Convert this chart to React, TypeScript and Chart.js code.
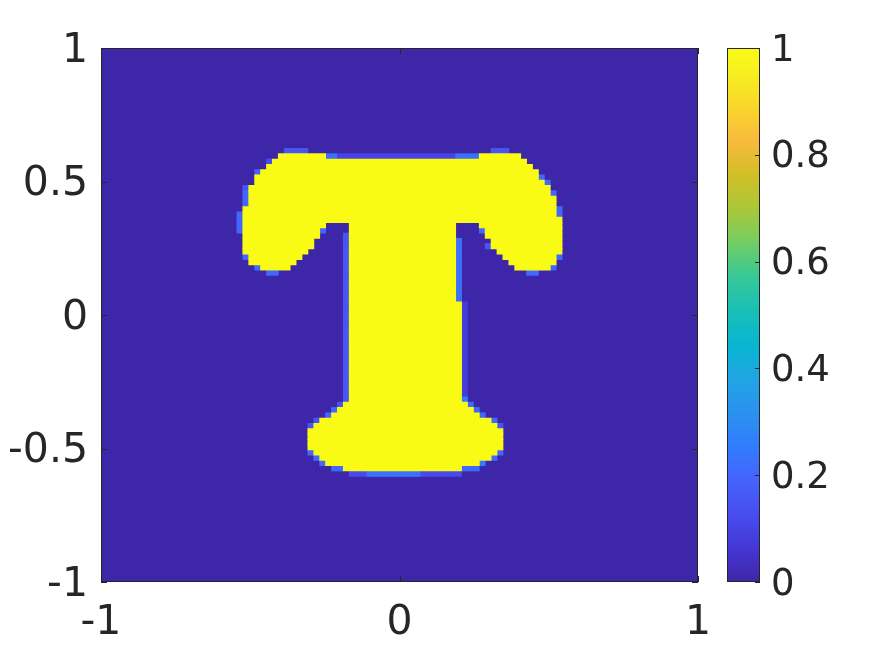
import React, { useEffect, useRef } from 'react';
import { Chart, registerables } from 'chart.js';

Chart.register(...registerables);

// ---- grid / axes ----
const GRID_N = 101; // cells per axis, spanning -1..1
const xTicks = [-1, 0, 1];
const yTicks = [-1, -0.5, 0, 0.5, 1];
const colorbarTicks = [0, 0.2, 0.4, 0.6, 0.8, 1];

// ---- cells with value 1 (rectangles in grid rows/cols, row 0 = top, col 0 = left) ----
const fullRowFrom = [20, 20, 21, 22, 23, 24, 25, 26, 28, 30, 32, 33, 34, 36, 38, 39, 40, 41, 33, 48, 33, 34, 36, 38, 39, 40, 41, 67, 68, 69, 70, 71, 72, 76, 77, 78, 79];
const fullRowTo = [20, 20, 21, 22, 23, 24, 25, 27, 29, 31, 32, 33, 35, 37, 38, 39, 40, 41, 47, 66, 33, 35, 37, 38, 39, 40, 41, 67, 68, 69, 70, 71, 75, 76, 77, 78, 79];
const fullColFrom = [30, 64, 29, 28, 27, 26, 26, 25, 25, 24, 24, 24, 24, 24, 24, 25, 25, 27, 42, 42, 64, 65, 66, 67, 68, 69, 70, 41, 40, 39, 37, 36, 35, 36, 37, 38, 41];
const fullColTo = [37, 70, 71, 72, 73, 73, 74, 75, 76, 76, 77, 37, 36, 35, 34, 33, 32, 31, 59, 60, 77, 77, 77, 77, 76, 76, 75, 61, 62, 63, 65, 66, 67, 66, 65, 63, 60];

// ---- edge cells with partial values ----
const edgeRowFrom = [19, 19, 20, 20, 20, 21, 23, 26, 27, 31, 39, 41, 42, 24, 25, 27, 30, 39, 41, 42, 34, 34, 37, 35, 36, 48, 66, 67, 67, 68, 68, 69, 69, 70, 70, 71, 71, 76, 76, 77, 77, 78, 78, 79, 79, 80, 80];
const edgeRowTo = [19, 19, 20, 20, 20, 21, 23, 26, 29, 34, 39, 41, 42, 24, 25, 27, 31, 39, 41, 42, 34, 34, 37, 66, 47, 65, 66, 67, 67, 68, 68, 69, 69, 70, 70, 71, 71, 76, 76, 77, 77, 78, 78, 79, 79, 80, 80];
const edgeColFrom = [31, 66, 38, 40, 60, 28, 26, 24, 24, 23, 24, 26, 28, 74, 75, 76, 77, 77, 76, 72, 37, 64, 65, 41, 60, 61, 61, 40, 62, 39, 63, 38, 64, 36, 66, 35, 67, 35, 67, 36, 66, 37, 64, 39, 61, 42, 45];
const edgeColTo = [34, 68, 39, 59, 63, 28, 26, 24, 24, 23, 24, 26, 29, 74, 75, 76, 77, 77, 76, 73, 37, 64, 65, 41, 60, 61, 61, 40, 62, 39, 63, 38, 64, 36, 66, 35, 67, 35, 67, 36, 66, 37, 64, 40, 63, 60, 53];
const edgeValue = [0.15, 0.15, 0.22, 0.1, 0.22, 0.12, 0.18, 0.15, 0.2, 0.2, 0.2, 0.2, 0.2, 0.2, 0.2, 0.2, 0.2, 0.2, 0.2, 0.2, 0.2, 0.2, 0.15, 0.15, 0.22, 0.08, 0.25, 0.15, 0.2, 0.2, 0.2, 0.2, 0.2, 0.15, 0.2, 0.15, 0.15, 0.2, 0.2, 0.2, 0.2, 0.2, 0.25, 0.2, 0.2, 0.12, 0.22];

// ---- parula colormap (style) ----
const PARULA: [number, number, number, number][] = [
  [0 / 63, 0.2422, 0.1504, 0.6603],
  [4 / 63, 0.2706, 0.2147, 0.8364],
  [8 / 63, 0.2813, 0.3006, 0.9414],
  [12 / 63, 0.2699, 0.3892, 0.9906],
  [16 / 63, 0.1963, 0.4847, 0.9892],
  [20 / 63, 0.1687, 0.5703, 0.9359],
  [24 / 63, 0.1248, 0.6459, 0.8883],
  [28 / 63, 0.0297, 0.7082, 0.8163],
  [32 / 63, 0.0964, 0.75, 0.712],
  [36 / 63, 0.2161, 0.7843, 0.5923],
  [40 / 63, 0.4456, 0.8024, 0.3909],
  [44 / 63, 0.672, 0.7793, 0.2227],
  [48 / 63, 0.8203, 0.7498, 0.1535],
  [52 / 63, 0.9728, 0.7298, 0.2394],
  [56 / 63, 0.9786, 0.8386, 0.1766],
  [60 / 63, 0.9628, 0.9373, 0.1265],
  [63 / 63, 0.9769, 0.9839, 0.0805],
];

function parula(t: number): string {
  const v = Math.max(0, Math.min(1, t));
  for (let i = 1; i < PARULA.length; i++) {
    const a = PARULA[i - 1];
    const b = PARULA[i];
    if (v <= b[0]) {
      const f = (v - a[0]) / (b[0] - a[0]);
      const r = Math.round((a[1] + (b[1] - a[1]) * f) * 255);
      const g = Math.round((a[2] + (b[2] - a[2]) * f) * 255);
      const bl = Math.round((a[3] + (b[3] - a[3]) * f) * 255);
      return `rgb(${r},${g},${bl})`;
    }
  }
  return 'rgb(249,251,21)';
}

const TEXT = '#262626';
const FONT = 'DejaVu Sans';

function buildCells() {
  const h = 2 / GRID_N;
  const data: { x: [number, number]; y: number }[] = [];
  const colors: string[] = [];
  const add = (r0: number, r1: number, c0: number, c1: number, v: number) => {
    for (let r = r0; r <= r1; r++) {
      data.push({ x: [-1 + c0 * h, -1 + (c1 + 1) * h], y: 1 - (r + 0.5) * h });
      colors.push(parula(v));
    }
  };
  edgeRowFrom.forEach((_, i) => add(edgeRowFrom[i], edgeRowTo[i], edgeColFrom[i], edgeColTo[i], edgeValue[i]));
  fullRowFrom.forEach((_, i) => add(fullRowFrom[i], fullRowTo[i], fullColFrom[i], fullColTo[i], 1));
  return { data, colors };
}

const heatmapFrame = {
  id: 'heatmapFrame',
  beforeDatasetsDraw(chart: any) {
    const { ctx, chartArea: a } = chart;
    ctx.save();
    ctx.fillStyle = parula(0);
    ctx.fillRect(a.left, a.top, a.right - a.left, a.bottom - a.top);
    ctx.restore();
  },
  afterDatasetsDraw(chart: any) {
    const { ctx, chartArea: a, scales } = chart;
    const tl = 6;
    ctx.save();
    ctx.strokeStyle = TEXT;
    ctx.lineWidth = 1;
    ctx.beginPath();
    scales.x.ticks.forEach((t: any) => {
      const px = Math.round(scales.x.getPixelForValue(t.value)) + 0.5;
      ctx.moveTo(px, a.bottom);
      ctx.lineTo(px, a.bottom - tl);
      ctx.moveTo(px, a.top);
      ctx.lineTo(px, a.top + tl);
    });
    scales.y.ticks.forEach((t: any) => {
      const py = Math.round(scales.y.getPixelForValue(t.value)) + 0.5;
      ctx.moveTo(a.left, py);
      ctx.lineTo(a.left + tl, py);
      ctx.moveTo(a.right, py);
      ctx.lineTo(a.right - tl, py);
    });
    ctx.stroke();
    ctx.strokeRect(Math.round(a.left) + 0.5, Math.round(a.top) + 0.5, Math.round(a.right - a.left) - 1, Math.round(a.bottom - a.top) - 1);
    ctx.restore();
  },
};

const colorbarFrame = {
  id: 'colorbarFrame',
  afterDatasetsDraw(chart: any) {
    const { ctx, chartArea: a, scales } = chart;
    const tl = 5;
    ctx.save();
    ctx.strokeStyle = TEXT;
    ctx.lineWidth = 1;
    ctx.beginPath();
    scales.y.ticks.forEach((t: any) => {
      const py = Math.round(scales.y.getPixelForValue(t.value)) + 0.5;
      ctx.moveTo(a.right, py);
      ctx.lineTo(a.right - tl, py);
    });
    ctx.stroke();
    ctx.strokeRect(Math.round(a.left) + 0.5, Math.round(a.top) + 0.5, Math.round(a.right - a.left) - 1, Math.round(a.bottom - a.top) - 1);
    ctx.restore();
  },
};

export default function App() {
  const mainRef = useRef<HTMLCanvasElement>(null);
  const barRef = useRef<HTMLCanvasElement>(null);

  useEffect(() => {
    if (!mainRef.current || !barRef.current) return;
    const cells = buildCells();
    const axisFont = { family: FONT, size: 41 };

    const main = new Chart(mainRef.current, {
      type: 'bar',
      data: {
        datasets: [
          {
            data: cells.data as any,
            backgroundColor: cells.colors,
            borderWidth: 0,
            borderSkipped: false,
            inflateAmount: 0.4,
            barPercentage: 1,
            categoryPercentage: 1,
            grouped: false,
          } as any,
        ],
      },
      options: {
        indexAxis: 'y',
        responsive: false,
        animation: false,
        layout: { padding: { top: 48, right: 42, left: 0, bottom: 0 } },
        plugins: { legend: { display: false }, tooltip: { enabled: false } },
        scales: {
          x: {
            type: 'linear',
            min: -1,
            max: 1,
            offset: false,
            afterBuildTicks: (s: any) => {
              s.ticks = xTicks.map((v) => ({ value: v }));
            },
            afterFit: (s: any) => {
              s.height = 74;
            },
            ticks: { font: axisFont, color: TEXT, padding: 17, maxRotation: 0, autoSkip: false, callback: (v: any) => String(v) },
            grid: { display: false, drawTicks: false, offset: false },
            border: { display: false },
          },
          y: {
            type: 'linear',
            min: -1,
            max: 1,
            offset: false,
            afterBuildTicks: (s: any) => {
              s.ticks = yTicks.map((v) => ({ value: v }));
            },
            afterFit: (s: any) => {
              s.width = 101;
            },
            ticks: { font: axisFont, color: TEXT, padding: 13, labelOffset: 3, autoSkip: false, callback: (v: any) => String(v) },
            grid: { display: false, drawTicks: false, offset: false },
            border: { display: false },
          },
        } as any,
      },
      plugins: [heatmapFrame],
    });

    const bar = new Chart(barRef.current, {
      type: 'bar',
      data: {
        labels: [''],
        datasets: [
          {
            data: [[colorbarTicks[0], colorbarTicks[colorbarTicks.length - 1]]] as any,
            backgroundColor: (ctx: any) => {
              const chart = ctx.chart;
              const ys = chart.scales && chart.scales.y;
              if (!chart.chartArea || !ys) return parula(0.5);
              const g = chart.ctx.createLinearGradient(0, ys.getPixelForValue(0), 0, ys.getPixelForValue(1));
              PARULA.forEach((p) => g.addColorStop(p[0], parula(p[0])));
              return g;
            },
            borderWidth: 0,
            barPercentage: 1,
            categoryPercentage: 1,
          } as any,
        ],
      },
      options: {
        responsive: false,
        animation: false,
        layout: { padding: { left: 27, top: 48, bottom: 74, right: 0 } },
        plugins: { legend: { display: false }, tooltip: { enabled: false } },
        scales: {
          x: { display: false },
          y: {
            position: 'right',
            min: 0,
            max: 1,
            afterBuildTicks: (s: any) => {
              s.ticks = colorbarTicks.map((v) => ({ value: v }));
            },
            afterFit: (s: any) => {
              s.width = 115;
            },
            ticks: { font: { family: FONT, size: 37 }, color: TEXT, padding: 11, labelOffset: 3, autoSkip: false, callback: (v: any) => String(v) },
            grid: { display: false, drawTicks: false },
            border: { display: false },
          },
        } as any,
      },
      plugins: [colorbarFrame],
    });

    return () => {
      main.destroy();
      bar.destroy();
    };
  }, []);

  return (
    <div style={{ position: 'absolute', left: 0, top: 0, width: 875, height: 656, background: '#ffffff' }}>
      <canvas ref={mainRef} width={740} height={656} style={{ position: 'absolute', left: 0, top: 0, width: 740, height: 656 }} />
      <canvas ref={barRef} width={175} height={656} style={{ position: 'absolute', left: 700, top: 0, width: 175, height: 656 }} />
    </div>
  );
}
